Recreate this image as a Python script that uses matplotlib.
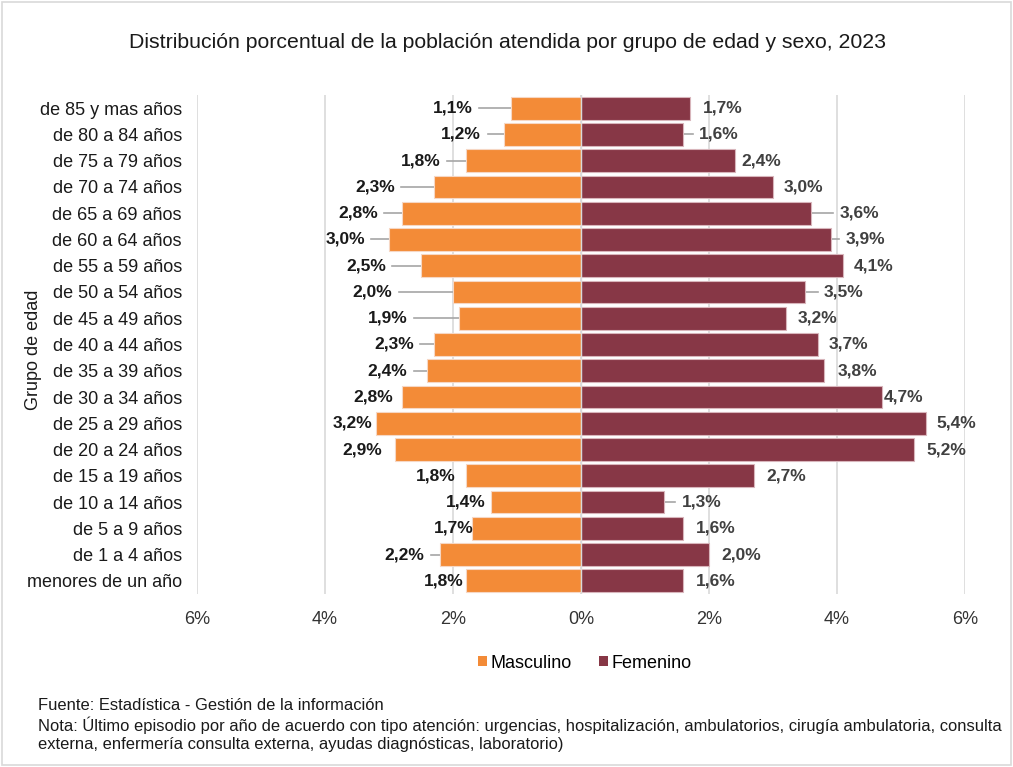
import matplotlib
matplotlib.use("Agg")
import matplotlib.pyplot as plt
from matplotlib.patches import Rectangle, Patch

plt.rcParams['font.family'] = ['Liberation Sans', 'DejaVu Sans']

categories = ["de 85 y mas años", "de 80 a 84 años", "de 75 a 79 años", "de 70 a 74 años",
              "de 65 a 69 años", "de 60 a 64 años", "de 55 a 59 años", "de 50 a 54 años",
              "de 45 a 49 años", "de 40 a 44 años", "de 35 a 39 años", "de 30 a 34 años",
              "de 25 a 29 años", "de 20 a 24 años", "de 15 a 19 años", "de 10 a 14 años",
              "de 5 a 9 años", "de 1 a 4 años", "menores de un año"]
masculino = [1.1, 1.2, 1.8, 2.3, 2.8, 3.0, 2.5, 2.0, 1.9, 2.3, 2.4, 2.8, 3.2, 2.9, 1.8, 1.4, 1.7, 2.2, 1.8]
femenino = [1.7, 1.6, 2.4, 3.0, 3.6, 3.9, 4.1, 3.5, 3.2, 3.7, 3.8, 4.7, 5.4, 5.2, 2.7, 1.3, 1.6, 2.0, 1.6]
xticks = [-6, -4, -2, 0, 2, 4, 6]

# label gaps (percent units) from bar end to label
gap_m = [0.59, 0.36, 0.39, 0.61, 0.375, 0.375, 0.55, 0.95, 0.81, 0.31, 0.31, 0.14, 0.06, 0.20, 0.16, 0.09, -0.03, 0.25, 0.03]
gap_f = [0.20, 0.25, 0.11, 0.16, 0.44, 0.23, 0.16, 0.30, 0.19, 0.17, 0.21, 0.03, 0.16, 0.20, 0.19, 0.27, 0.20, 0.19, 0.19]

C_M = "#F38B37"
C_F = "#873746"

fig = plt.figure(figsize=(10.13, 7.67), dpi=100)
ax = fig.add_axes([0.1945, 0.2256, 0.758, 0.6505])

n = len(categories)
y = list(range(n))
ax.barh(y, [-v for v in masculino], height=0.87, color=C_M, edgecolor="#f6d7c4", linewidth=0.8, zorder=3)
ax.barh(y, femenino, height=0.87, color=C_F, edgecolor="#d8b5bb", linewidth=0.8, zorder=3)

ax.set_xlim(-6, 6)
ax.set_ylim(n - 0.5, -0.5)
ax.set_xticks(xticks)
ax.set_xticklabels([f"{abs(t)}%" for t in xticks], fontsize=13, color="#333333")
ax.set_yticks(y)
ax.set_yticklabels(categories, fontsize=13, color="#1a1a1a")
ax.tick_params(axis='both', length=0)
ax.tick_params(axis='y', pad=11)
ax.tick_params(axis='x', pad=12)
for s in ax.spines.values():
    s.set_visible(False)
ax.grid(axis='x', color="#d9d9d9", linewidth=1.2, zorder=0)
ax.axvline(0, color="#d9d9d9", linewidth=1.0, zorder=4)

pad = 0.1
for i in y:
    xm = -masculino[i]
    tx = xm - gap_m[i]
    ax.text(tx, i, f"{masculino[i]:.1f}%".replace(".", ","), ha='right', va='center',
            fontsize=12.5, fontweight='bold', color="#1a1a1a", zorder=6)
    if gap_m[i] >= 0.24:
        ax.plot([tx + pad, xm], [i, i], color="#a6a6a6", linewidth=1.2, zorder=2)
    xf = femenino[i]
    tf = xf + gap_f[i]
    ax.text(tf, i, f"{femenino[i]:.1f}%".replace(".", ","), ha='left', va='center',
            fontsize=12.5, fontweight='bold', color="#404040", zorder=6)
    if gap_f[i] >= 0.22:
        ax.plot([xf, tf - pad], [i, i], color="#a6a6a6", linewidth=1.2, zorder=2)

fig.text(33 / 1013, 1 - 350 / 767, "Grupo de edad", rotation=90, ha='center', va='center',
         fontsize=13, color="#1a1a1a")

fig.text(507 / 1013, 1 - 42 / 767, "Distribución porcentual de la población atendida por grupo de edad y sexo, 2023",
         ha='center', va='center', fontsize=15.3, color="#1a1a1a")

handles = [Patch(facecolor=C_M, label="Masculino"), Patch(facecolor=C_F, label="Femenino")]
fig.legend(handles=handles, loc='center', bbox_to_anchor=(585 / 1013, 1 - 663 / 767), ncol=2,
           frameon=False, fontsize=13, handlelength=0.5, handleheight=0.5, handletextpad=0.2,
           columnspacing=1.5)

notes = ["Fuente: Estadística - Gestión de la información",
         "Nota: Último episodio por año de acuerdo con tipo atención: urgencias, hospitalización, ambulatorios, cirugía ambulatoria, consulta",
         "externa, enfermería consulta externa, ayudas diagnósticas, laboratorio)"]
for k, t in enumerate(notes):
    fig.text(38 / 1013, 1 - (706 + 19.5 * k) / 767, t, ha='left', va='center', fontsize=11.9, color="#1a1a1a")

fig.patches.append(Rectangle((0.002, 0.002), 0.996, 0.996, transform=fig.transFigure,
                             fill=False, edgecolor="#d9d9d9", linewidth=1.2))

fig.savefig("out.png", dpi=100)
